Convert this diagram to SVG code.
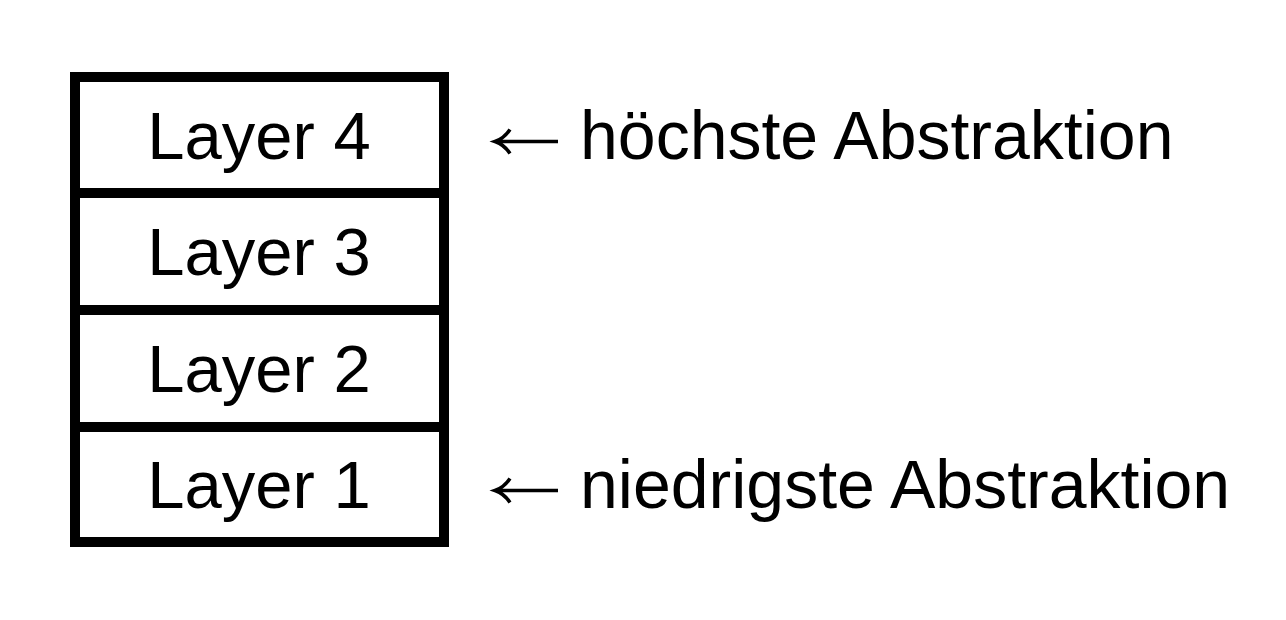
<svg xmlns="http://www.w3.org/2000/svg" width="1286" height="620" viewBox="0 0 1286 620">
<style>
.t{font-family:"Liberation Sans",Arial,sans-serif;font-size:67px;fill:#000}
.l{font-size:68px}
.c{text-anchor:middle}
.b{fill:#fff;stroke:#000;stroke-width:10}
.a{fill:none;stroke:#000;stroke-width:3.5;stroke-linecap:butt;stroke-linejoin:miter}
</style>
<defs>
<path id="arr" d="M496 0 H558 M510 -12 Q504 -3 495 0 Q504 3 510 12"/>
</defs>
<rect width="1286" height="620" fill="#fff"/>
<g id="layer4"><rect class="b" x="75" y="77" width="369" height="116"/><text class="t c" x="259" y="159">Layer 4</text></g>
<g id="layer3"><rect class="b" x="75" y="193" width="369" height="117"/><text class="t c" x="259" y="275">Layer 3</text></g>
<g id="layer2"><rect class="b" x="75" y="310" width="369" height="117"/><text class="t c" x="259" y="392">Layer 2</text></g>
<g id="layer1"><rect class="b" x="75" y="427" width="369" height="115"/><text class="t c" x="259" y="508">Layer 1</text></g>
<g id="connectors">
<use href="#arr" class="a" transform="translate(0 141.5)"/>
<use href="#arr" class="a" transform="translate(0 490.5)"/>
</g>
<g id="label-high"><text class="t l" x="580" y="159">höchste Abstraktion</text></g>
<g id="label-low"><text class="t l" x="580" y="508">niedrigste Abstraktion</text></g>
</svg>
